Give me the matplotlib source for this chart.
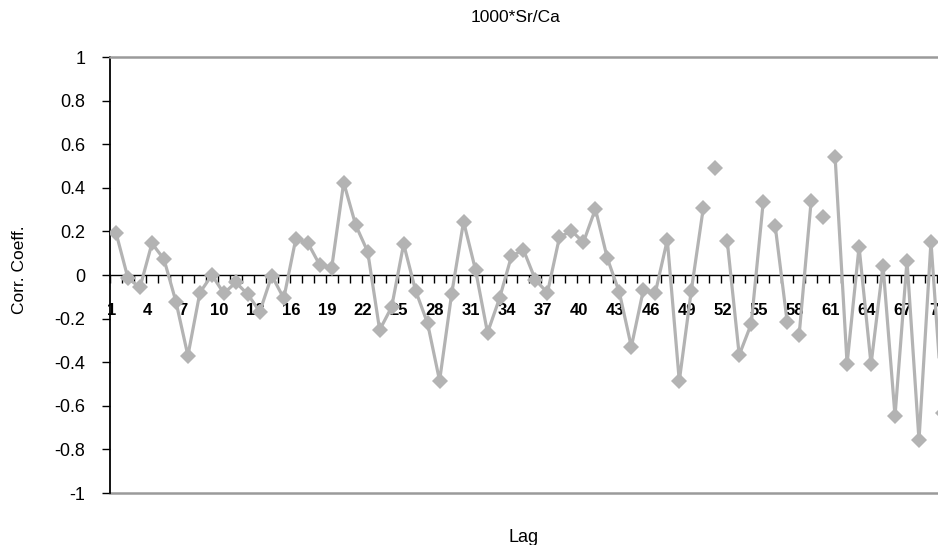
import matplotlib.pyplot as plt
import numpy as np

# autocorrelation of 1000*Sr/Ca
lags = list(range(1, 71))
corr = [0.194, -0.015, -0.057, 0.145, 0.073, -0.122, -0.370, -0.081, 0.000, -0.084,
        -0.034, -0.089, -0.168, -0.003, -0.107, 0.165, 0.148, 0.046, 0.034, 0.424,
        0.229, 0.107, -0.252, -0.147, 0.142, -0.072, -0.222, -0.485, -0.089, 0.245,
        0.023, -0.265, -0.107, 0.087, 0.115, -0.023, -0.081, 0.173, 0.203, 0.150,
        0.303, 0.076, -0.080, -0.329, -0.069, -0.081, 0.161, -0.486, -0.072, 0.306,
        0.492, 0.156, -0.367, -0.225, 0.333, 0.226, -0.214, -0.275, 0.339, 0.265,
        0.543, -0.408, 0.130, -0.410, 0.043, -0.647, 0.066, -0.757, 0.153, -0.635]
# lags after which the line is not drawn to the next point
no_link_after = [50, 51, 55, 57, 59, 60]
x_labels = lags[::3]
y_ticks = [1, 0.8, 0.6, 0.4, 0.2, 0, -0.2, -0.4, -0.6, -0.8, -1]
y_tick_labels = ['1', '0.8', '0.6', '0.4', '0.2', '0', '-0.2', '-0.4', '-0.6', '-0.8', '-1']

plt.rcParams['font.family'] = ['Liberation Sans', 'DejaVu Sans']

W, H = 938, 545
fig = plt.figure(figsize=(W / 100, H / 100), dpi=100)
cat_w = 11.985
ax = fig.add_axes([110 / W, 52 / H, 72 * cat_w / W, 436 / H])

grey = '#b3b3b3'
start = 0
for i in range(len(lags)):
    if lags[i] in no_link_after or i == len(lags) - 1:
        ax.plot(lags[start:i + 1], corr[start:i + 1], color=grey, lw=2.3, zorder=3)
        start = i + 1
ax.plot(lags, corr, 'D', ls='none', color=grey, ms=8.3, mew=0, zorder=4)

ax.set_xlim(0.5, 72.5)
ax.set_ylim(-1, 1)

ax.spines['right'].set_visible(False)
ax.spines['bottom'].set_position(('data', 0))
ax.spines['bottom'].set_color('black')
ax.spines['bottom'].set_linewidth(1)
ax.spines['top'].set_color('#9a9a9a')
ax.spines['top'].set_linewidth(1.8)
ax.spines['left'].set_color('black')
ax.spines['left'].set_linewidth(1.3)
ax.axhline(-1, color='#9a9a9a', lw=1.8, clip_on=False, zorder=2.5)

ax.set_xticks([l - 0.38 for l in x_labels])
ax.set_xticklabels([str(l) for l in x_labels], fontweight='bold', fontsize=12)
ax.set_xticks(np.arange(0.5, 73, 1), minor=True)
ax.tick_params(axis='x', which='major', length=0, pad=20)
ax.tick_params(axis='x', which='minor', length=5.8, width=1, direction='out')

ax.set_yticks(y_ticks)
ax.set_yticklabels(y_tick_labels, fontsize=13)
ax.tick_params(axis='y', length=5.8, width=1, direction='out', pad=12)

fig.text(516 / W, 1 - 17 / H, '1000*Sr/Ca', ha='center', va='center', fontsize=12.5)
fig.text(524 / W, 1 - 537 / H, 'Lag', ha='center', va='center', fontsize=13)
fig.text(19 / W, 1 - 270 / H, 'Corr. Coeff.', ha='center', va='center', rotation=90, fontsize=12.5)

fig.savefig('out.png', dpi=100)
